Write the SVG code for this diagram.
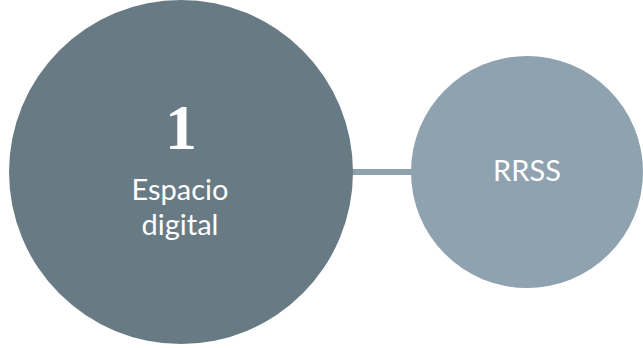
<svg xmlns="http://www.w3.org/2000/svg" width="643" height="348" viewBox="0 0 643 348">
<style>
.lbl{font-family:Lato,"Open Sans",sans-serif;fill:#ffffff;text-anchor:middle;font-size:29px}
.num{font-family:"Liberation Serif",serif;font-weight:bold;fill:#ffffff;text-anchor:middle}
</style>
<rect width="643" height="348" fill="#ffffff"/>
<g id="connectors">
<line x1="350" y1="172" x2="415" y2="172" stroke="#8ea1ad" stroke-width="6"/>
</g>
<g id="node-espacio">
<circle cx="181" cy="172" r="172" fill="#687a84"/>
<text class="num" x="181" y="149" font-size="64">1</text>
<text class="lbl" x="180" y="200">Espacio</text>
<text class="lbl" x="180" y="235">digital</text>
</g>
<g id="node-rrss">
<circle cx="527" cy="172" r="116" fill="#8fa2af"/>
<text class="lbl" x="527" y="181">RRSS</text>
</g>
</svg>
